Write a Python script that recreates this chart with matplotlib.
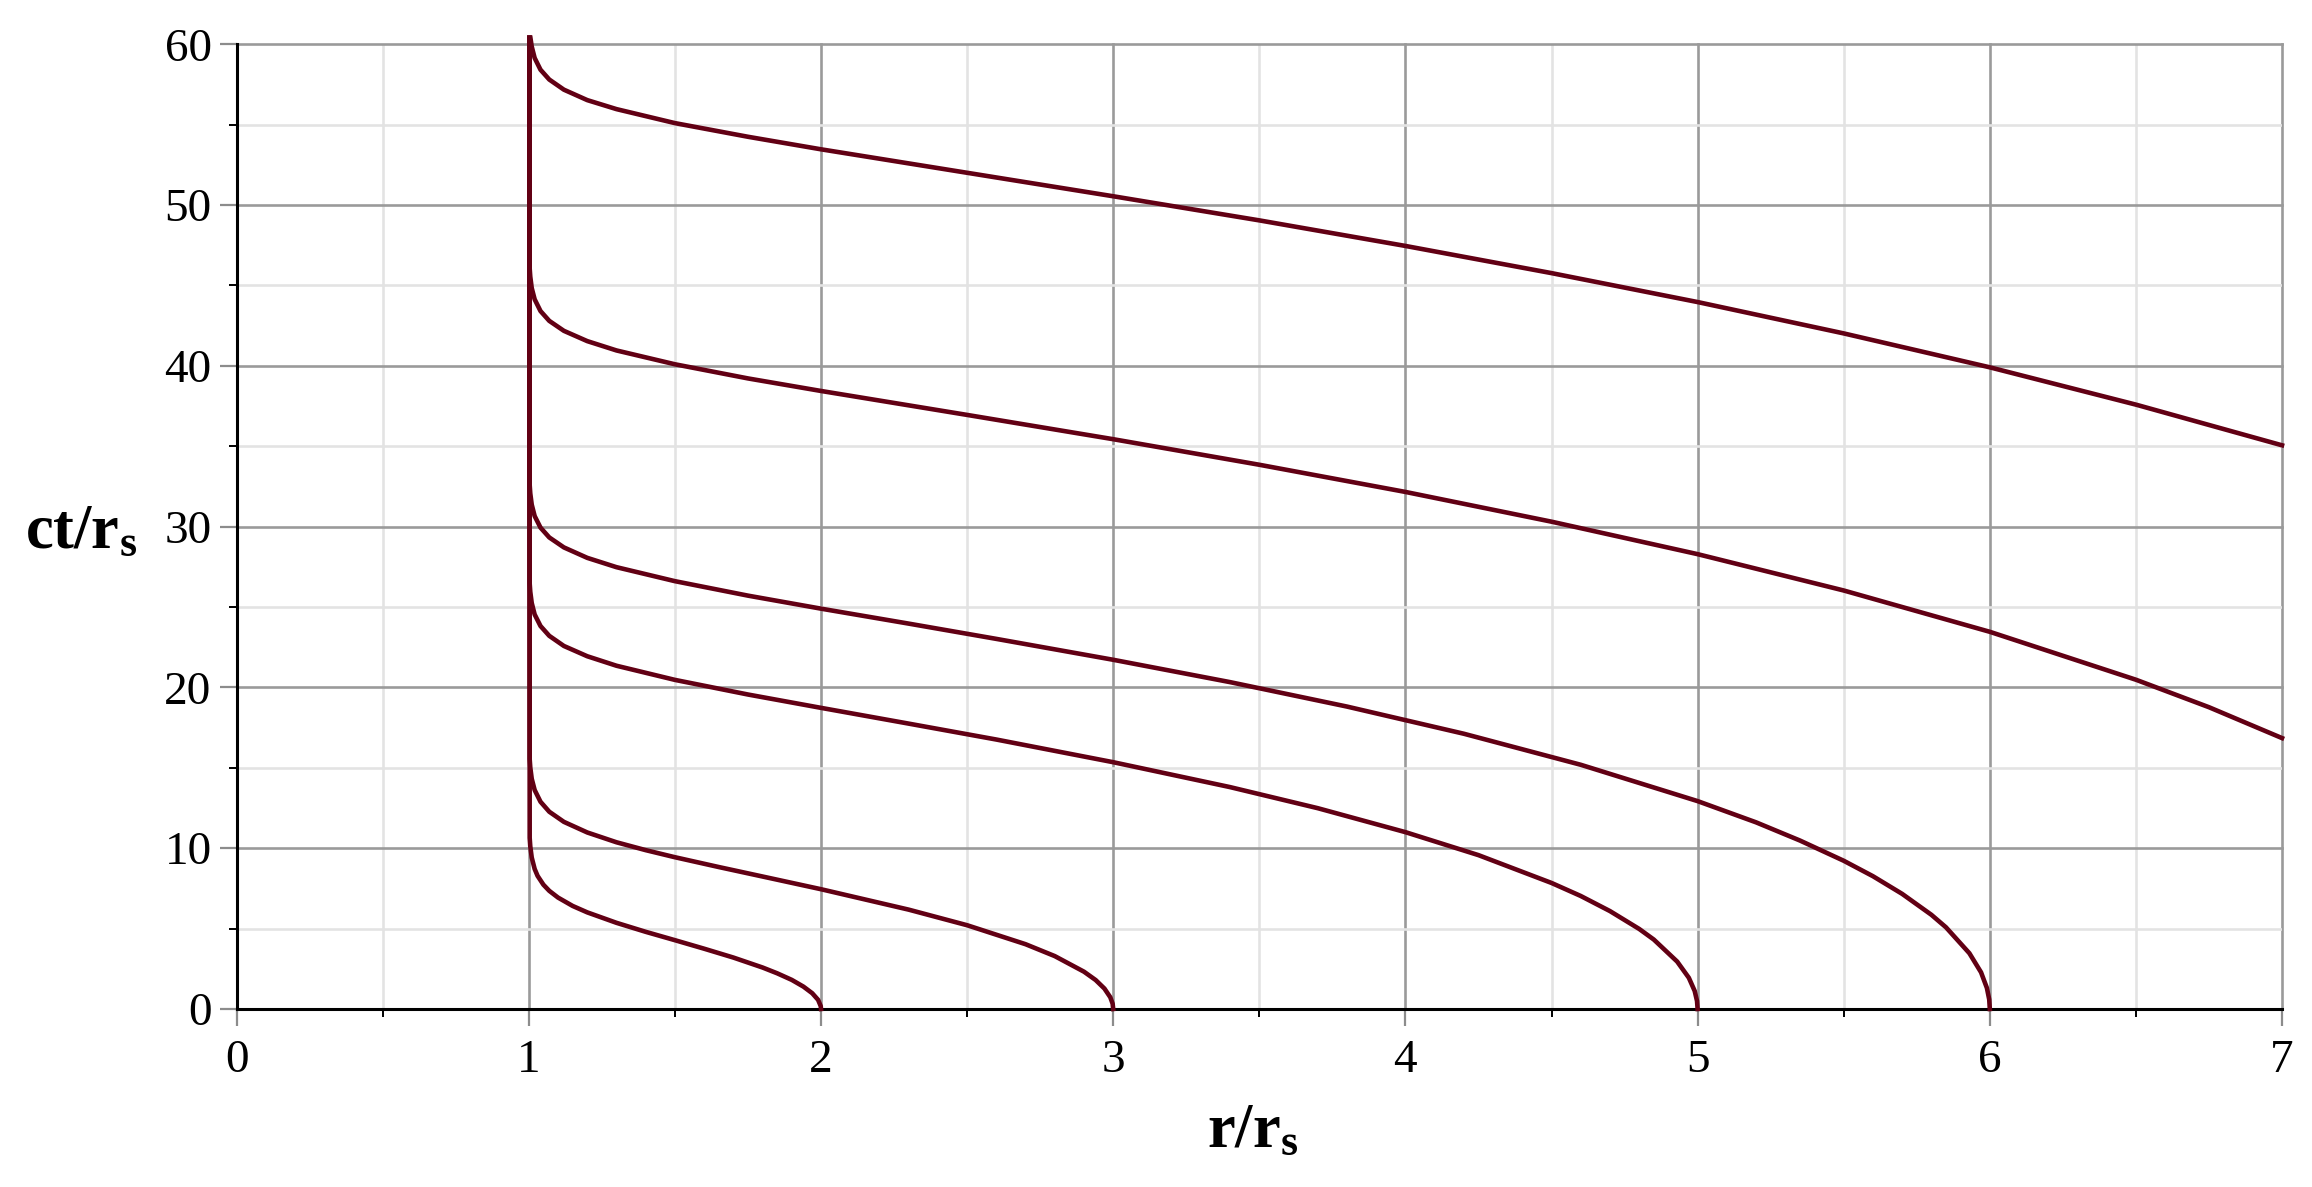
import matplotlib
matplotlib.use("Agg")
import matplotlib.pyplot as plt
from matplotlib.ticker import MultipleLocator

# r/r_s and ct/r_s along each free-fall curve
# fall from rest at r0 = 2
r_2 = [2.0, 1.999, 1.99, 1.97, 1.94, 1.9, 1.85, 1.8, 1.7, 1.6, 1.5, 1.4, 1.3,
       1.2, 1.15, 1.1, 1.07, 1.05, 1.03, 1.02, 1.01, 1.005, 1.003, 1.002]
t_2 = [0.0, 0.18, 0.57, 0.98, 1.39, 1.81, 2.22, 2.58, 3.20, 3.75, 4.28, 4.80, 5.36,
       6.01, 6.41, 6.93, 7.35, 7.73, 8.28, 8.71, 9.42, 10.12, 10.64, 60.4]

# r0 = 3
r_3 = [3.0, 2.998, 2.99, 2.97, 2.94, 2.9, 2.8, 2.7, 2.5, 2.3, 2.0, 1.8, 1.65,
       1.5, 1.4, 1.3, 1.2, 1.12, 1.07, 1.04, 1.02, 1.01, 1.005, 1.003, 1.002]
t_3 = [0.0, 0.33, 0.73, 1.27, 1.80, 2.32, 3.29, 4.03, 5.21, 6.18, 7.45, 8.24, 8.83,
       9.44, 9.88, 10.37, 10.98, 11.64, 12.27, 12.89, 13.62, 14.32, 15.03, 15.54, 60.4]

# r0 = 5
r_5 = [5.0, 4.998, 4.99, 4.97, 4.93, 4.85, 4.8, 4.7, 4.6, 4.5, 4.25, 4.0, 3.7,
       3.4, 3.0, 2.6, 2.3, 2.0, 1.75, 1.5, 1.3, 1.2, 1.12, 1.07, 1.04, 1.02,
       1.01, 1.005, 1.003, 1.002]
t_5 = [0.0, 0.50, 1.12, 1.94, 2.95, 4.32, 4.98, 6.09, 7.03, 7.84, 9.57, 11.00, 12.49,
       13.80, 15.35, 16.76, 17.75, 18.73, 19.56, 20.47, 21.35, 21.94, 22.58, 23.21,
       23.82, 24.54, 25.25, 25.95, 26.47, 60.4]

# r0 = 6
r_6 = [6.0, 5.998, 5.99, 5.97, 5.93, 5.85, 5.8, 5.7, 5.6, 5.5, 5.35, 5.2, 5.0,
       4.6, 4.2, 3.8, 3.4, 3.0, 2.6, 2.3, 2.0, 1.75, 1.5, 1.3, 1.2, 1.12, 1.07,
       1.04, 1.02, 1.01, 1.005, 1.003, 1.002]
t_6 = [0.0, 0.59, 1.31, 2.28, 3.47, 5.08, 5.86, 7.16, 8.26, 9.22, 10.48, 11.61, 12.93,
       15.19, 17.12, 18.81, 20.33, 21.72, 23.02, 23.97, 24.90, 25.71, 26.61, 27.48,
       28.06, 28.71, 29.33, 29.94, 30.66, 31.37, 32.07, 32.59, 60.4]

# r0 = 8, enters at the right edge
r_8 = [7.0, 6.75, 6.5, 6.0, 5.5, 5.0, 4.5, 4.0, 3.5, 3.0, 2.5, 2.0, 1.75, 1.5,
       1.3, 1.2, 1.12, 1.07, 1.04, 1.02, 1.01, 1.005, 1.003, 1.002]
t_8 = [16.85, 18.77, 20.48, 23.46, 26.03, 28.29, 30.31, 32.16, 33.85, 35.44, 36.95,
       38.44, 39.22, 40.10, 40.96, 41.54, 42.18, 42.80, 43.41, 44.14, 44.84, 45.55,
       46.06, 60.4]

# r0 = 10, enters at the right edge
r_10 = [7.0, 6.5, 6.0, 5.5, 5.0, 4.5, 4.0, 3.5, 3.0, 2.5, 2.0, 1.75, 1.5, 1.3,
        1.2, 1.12, 1.07, 1.04, 1.02, 1.01, 1.0055]
t_10 = [35.06, 37.59, 39.91, 42.02, 43.97, 45.77, 47.46, 49.05, 50.55, 52.01, 53.47,
        54.25, 55.10, 55.97, 56.53, 57.18, 57.81, 58.42, 59.15, 59.86, 60.4]

curves = [(r_2, t_2), (r_3, t_3), (r_5, t_5), (r_6, t_6), (r_8, t_8), (r_10, t_10)]

plt.rcParams['font.family'] = ['Liberation Serif', 'DejaVu Serif']
plt.rcParams['mathtext.fontset'] = 'custom'
plt.rcParams['mathtext.rm'] = 'Liberation Serif'
plt.rcParams['mathtext.bf'] = 'Liberation Serif:bold'
plt.rcParams['mathtext.it'] = 'Liberation Serif:italic'

fig = plt.figure(figsize=(23.12, 11.87), dpi=100)
ax = fig.add_axes([0.10234, 0.14996, 0.88469, 0.8127])

for r, t in curves:
    ax.plot(r, t, color='#620014', lw=3.3, clip_on=False, zorder=3,
            solid_joinstyle='round')

ax.set_xlim(0, 7)
ax.set_ylim(0, 60)
ax.xaxis.set_major_locator(MultipleLocator(1))
ax.xaxis.set_minor_locator(MultipleLocator(0.5))
ax.yaxis.set_major_locator(MultipleLocator(10))
ax.yaxis.set_minor_locator(MultipleLocator(5))

ax.set_axisbelow(True)
ax.grid(which='major', color='#9a9a9a', lw=1.9)
ax.grid(which='minor', color='#e3e3e3', lw=1.9)
for gl in ax.get_xgridlines() + ax.get_ygridlines():
    gl.set_clip_on(False)

for side in ['top', 'right']:
    ax.spines[side].set_visible(False)
for side in ['left', 'bottom']:
    ax.spines[side].set_color('black')
    ax.spines[side].set_linewidth(2.2)
    ax.spines[side].set_zorder(2.5)

ax.tick_params(which='major', direction='out', length=12, width=1.6,
               color='#8c8c8c', labelsize=34)
ax.tick_params(which='minor', direction='out', length=6, width=1.4, color='black')
ax.tick_params(axis='y', which='major', pad=6)
ax.tick_params(axis='x', which='major', pad=10)

ax.set_xlabel(r'$\mathbf{r/r_s}$', fontsize=45, ha='center', va='center')
ax.xaxis.set_label_coords(0.497, -0.1275)
ax.set_ylabel(r'$\mathbf{ct/r_s}$', fontsize=45, rotation=0, ha='center', va='center')
ax.yaxis.set_label_coords(-0.0761, 0.493)

fig.savefig('out.png', dpi=100, facecolor='white')
